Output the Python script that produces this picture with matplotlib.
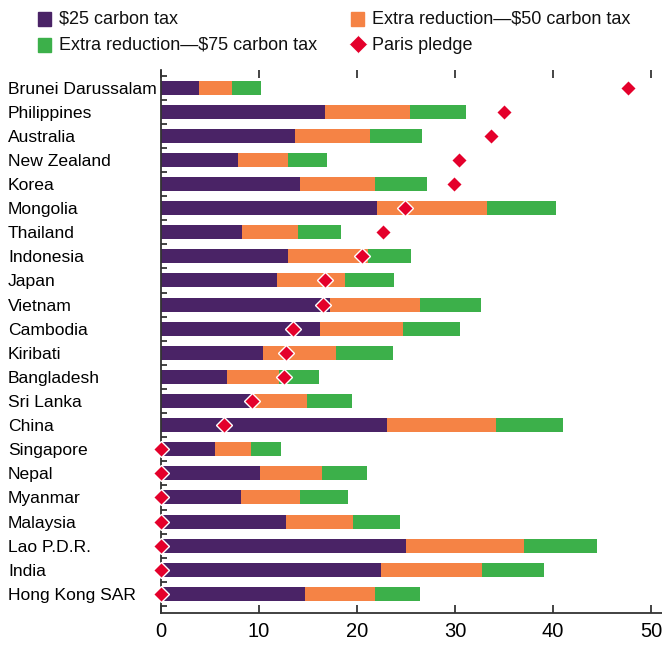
import matplotlib
matplotlib.use("Agg")
import matplotlib.pyplot as plt
from matplotlib import font_manager
from matplotlib.patches import Rectangle
from matplotlib.lines import Line2D
import numpy as np

names = {f.name for f in font_manager.fontManager.ttflist}
FONT = "Liberation Sans Narrow" if "Liberation Sans Narrow" in names else "Liberation Sans"
plt.rcParams['font.family'] = [FONT, 'DejaVu Sans']

countries = ["Brunei Darussalam", "Philippines", "Australia", "New Zealand", "Korea",
             "Mongolia", "Thailand", "Indonesia", "Japan", "Vietnam", "Cambodia",
             "Kiribati", "Bangladesh", "Sri Lanka", "China", "Singapore", "Nepal",
             "Myanmar", "Malaysia", "Lao P.D.R.", "India", "Hong Kong SAR"]
# cumulative end points
tax25 = [3.9, 16.7, 13.7, 7.9, 14.2, 22.0, 8.3, 13.0, 11.8, 17.2, 16.2,
         10.4, 6.7, 9.5, 23.1, 5.5, 10.1, 8.2, 12.7, 25.0, 22.4, 14.7]
total50 = [7.2, 25.4, 21.3, 13.0, 21.8, 33.2, 14.0, 21.1, 18.8, 26.4, 24.7,
           17.9, 12.0, 14.9, 34.2, 9.2, 16.4, 14.2, 19.6, 37.0, 32.7, 21.8]
total75 = [10.2, 31.1, 26.6, 16.9, 27.1, 40.3, 18.4, 25.5, 23.8, 32.6, 30.5,
           23.7, 16.1, 19.5, 41.0, 12.2, 21.0, 19.1, 24.4, 44.5, 39.1, 26.4]
paris = [47.6, 35.0, 33.7, 30.4, 29.9, 24.9, 22.6, 20.5, 16.7, 16.5, 13.5,
         12.8, 12.5, 9.3, 6.4, 0, 0, 0, 0, 0, 0, 0]
legend_labels = ["$25 carbon tax", "Extra reduction\u2014$50 carbon tax",
                 "Extra reduction\u2014$75 carbon tax", "Paris pledge"]

C_PURPLE = "#4A2366"
C_ORANGE = "#F58345"
C_GREEN = "#3CB04A"
C_RED = "#E4002B"

W, H = 662, 646
fig = plt.figure(figsize=(W / 100, H / 100), dpi=100)
ax = fig.add_axes([161 / W, 1 - 612.7 / H, (662 - 161) / W, (612.7 - 70) / H])

y = np.arange(len(countries))
t25 = np.array(tax25)
t50 = np.array(total50)
t75 = np.array(total75)
bh = 0.58
ax.barh(y, t25, height=bh, color=C_PURPLE, zorder=2)
ax.barh(y, t50 - t25, left=t25, height=bh, color=C_ORANGE, zorder=2)
ax.barh(y, t75 - t50, left=t50, height=bh, color=C_GREEN, zorder=2)
ax.plot(paris, y, linestyle='none', marker='D', markersize=8.6, color=C_RED,
        markeredgecolor='white', markeredgewidth=1.0, zorder=5, clip_on=False)

ax.set_xlim(0, 51.1)
ax.set_ylim(21.78, -0.73)
ax.set_xticks([0, 10, 20, 30, 40, 50])
ax.set_yticks(y)
ax.set_yticklabels(countries, ha='left')
ax.set_yticks(np.arange(-0.5, len(countries), 1.0), minor=True)
ax.tick_params(axis='y', which='major', length=0, pad=(161 - 8) * 0.72, labelsize=12.6)
ax.tick_params(axis='y', which='minor', direction='in', length=4, width=1.2, color='#222222')
ax.tick_params(axis='x', which='major', direction='in', length=6, width=1.4, color='#444444',
               top=True, labelsize=14.5, pad=7)
for s in ['top', 'right']:
    ax.spines[s].set_visible(False)
for s in ['left', 'bottom']:
    ax.spines[s].set_linewidth(1.3)
    ax.spines[s].set_color('#333333')

# legend (manual, in figure pixel coords)
def fx(px):
    return px / W

def fy(py):
    return 1 - py / H

sq = 13
entries = [
    (38, 19, 'sq', C_PURPLE, legend_labels[0]),
    (351, 19, 'sq', C_ORANGE, legend_labels[1]),
    (38, 45, 'sq', C_GREEN, legend_labels[2]),
    (351, 45, 'dia', C_RED, legend_labels[3]),
]
for x0, yc, kind, col, lab in entries:
    if kind == 'sq':
        fig.add_artist(Rectangle((fx(x0), fy(yc + sq / 2)), sq / W, sq / H,
                                 transform=fig.transFigure, color=col))
    else:
        fig.add_artist(Line2D([fx(x0 + 7)], [fy(yc - 1)], marker='D', markersize=9.5,
                              color=col, markeredgecolor='white', markeredgewidth=0.5,
                              linestyle='none', transform=fig.transFigure))
    fig.text(fx(x0 + 21), fy(yc), lab, fontsize=13, va='center', ha='left', color='#111111')

fig.savefig("out.png", dpi=100)
